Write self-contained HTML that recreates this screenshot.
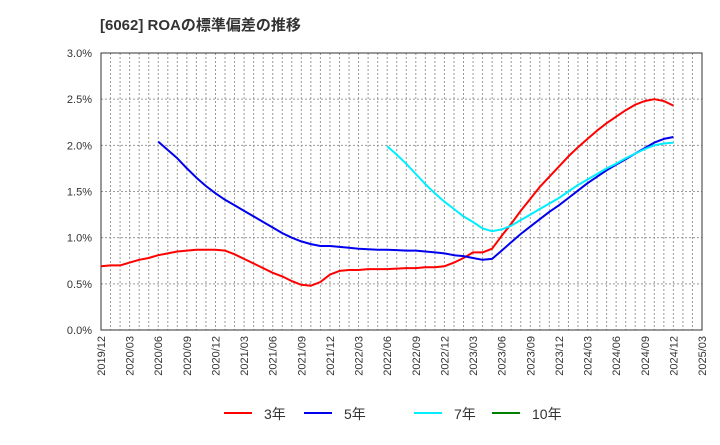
<!DOCTYPE html>
<html><head><meta charset="utf-8"><style>
body{margin:0;background:#fff;font-family:"Liberation Sans","Noto Sans CJK JP",sans-serif;}
</style></head><body>
<svg id="c" width="720" height="440" xmlns="http://www.w3.org/2000/svg">
<text x="100" y="30" font-size="15" font-weight="bold" fill="#333" font-family="Liberation Sans, Noto Sans CJK JP, sans-serif">[6062]  ROAの標準偏差の推移</text>
<g id="grid"></g><g id="axes"></g><g id="series"></g><g id="legend"></g>
</svg>
<script>
const yTicks=[0,0.5,1.0,1.5,2.0,2.5,3.0];
const xTickLabels=["2019/12","2020/03","2020/06","2020/09","2020/12","2021/03","2021/06","2021/09","2021/12","2022/03","2022/06","2022/09","2022/12","2023/03","2023/06","2023/09","2023/12","2024/03","2024/06","2024/09","2024/12","2025/03"];
const red3Start=0;
const red3=[0.69,0.70,0.70,0.73,0.76,0.78,0.81,0.83,0.85,0.86,0.87,0.87,0.87,0.86,0.82,0.77,0.72,0.67,0.62,0.58,0.53,0.49,0.48,0.52,0.60,0.64,0.65,0.65,0.66,0.66,0.66,0.665,0.67,0.67,0.68,0.68,0.69,0.73,0.78,0.84,0.84,0.88,1.02,1.15,1.29,1.42,1.55,1.66,1.77,1.88,1.98,2.07,2.16,2.24,2.31,2.38,2.44,2.48,2.50,2.48,2.43];
const blue5Start=6;
const blue5=[2.04,1.95,1.86,1.75,1.65,1.56,1.48,1.41,1.35,1.29,1.23,1.17,1.11,1.05,1.00,0.96,0.93,0.91,0.91,0.90,0.89,0.88,0.875,0.87,0.87,0.865,0.86,0.86,0.85,0.84,0.83,0.81,0.80,0.78,0.76,0.77,0.86,0.95,1.04,1.12,1.20,1.28,1.35,1.43,1.51,1.59,1.66,1.73,1.79,1.85,1.91,1.97,2.03,2.07,2.09];
const cyan7Start=30;
const cyan7=[1.99,1.90,1.80,1.69,1.58,1.48,1.39,1.31,1.23,1.17,1.10,1.07,1.09,1.13,1.19,1.25,1.31,1.37,1.43,1.50,1.57,1.63,1.69,1.75,1.80,1.86,1.91,1.96,2.00,2.02,2.03];
const L=101,R=702,T=53,B=330,NM=63;
const NS="http://www.w3.org/2000/svg";
const xs=m=>L+m*(R-L)/NM, ys=v=>B-v*(B-T)/3;
function mk(p,t,a){const e=document.createElementNS(NS,t);for(const k in a)e.setAttribute(k,a[k]);document.getElementById(p).appendChild(e);return e;}
for(let m=1;m<NM;m++){const e=mk('grid','line',{x1:xs(m),x2:xs(m),y1:T,y2:B,stroke:'#999','stroke-dasharray':'2,2','stroke-width':1});

}
yTicks.forEach(v=>{if(v>0&&v<3){const e=mk('grid','line',{x1:L,x2:R,y1:ys(v),y2:ys(v),stroke:'#999','stroke-dasharray':'2,2'});

}
const t=mk('axes','text',{x:92,y:ys(v)+4,'text-anchor':'end','font-size':11,fill:'#333'});t.textContent=v.toFixed(1)+'%';

});
xTickLabels.forEach((s,i)=>{const x=xs(i*3);const t=mk('axes','text',{transform:`translate(${x+4},336) rotate(-90)`,'text-anchor':'end','font-size':11,fill:'#333'});t.textContent=s;

});
const fr=mk('axes','rect',{x:L,y:T,width:R-L,height:B-T,fill:'none',stroke:'#333','stroke-width':1});


function line(arr,st,col,name){const p=arr.map((v,i)=>xs(st+i).toFixed(1)+','+ys(v).toFixed(1)).join(' ');
const e=mk('series','polyline',{points:p,fill:'none',stroke:col,'stroke-width':2,'stroke-linejoin':'round'});

}
line(red3,red3Start,'#ff0000','series-3y');
line(blue5,blue5Start,'#0000ee','series-5y');
line(cyan7,cyan7Start,'#00eeff','series-7y');
[[224,'#ff0000','3年'],[304,'#0000ee','5年'],[414,'#00eeff','7年'],[492,'#008000','10年']].forEach(([x,c,s])=>{
const l=mk('legend','line',{x1:x,x2:x+28,y1:413,y2:413,stroke:c,'stroke-width':2});


const t=mk('legend','text',{x:x+40,y:419,'font-size':14,fill:'#333'});t.textContent=s;

});
</script>
</body></html>
